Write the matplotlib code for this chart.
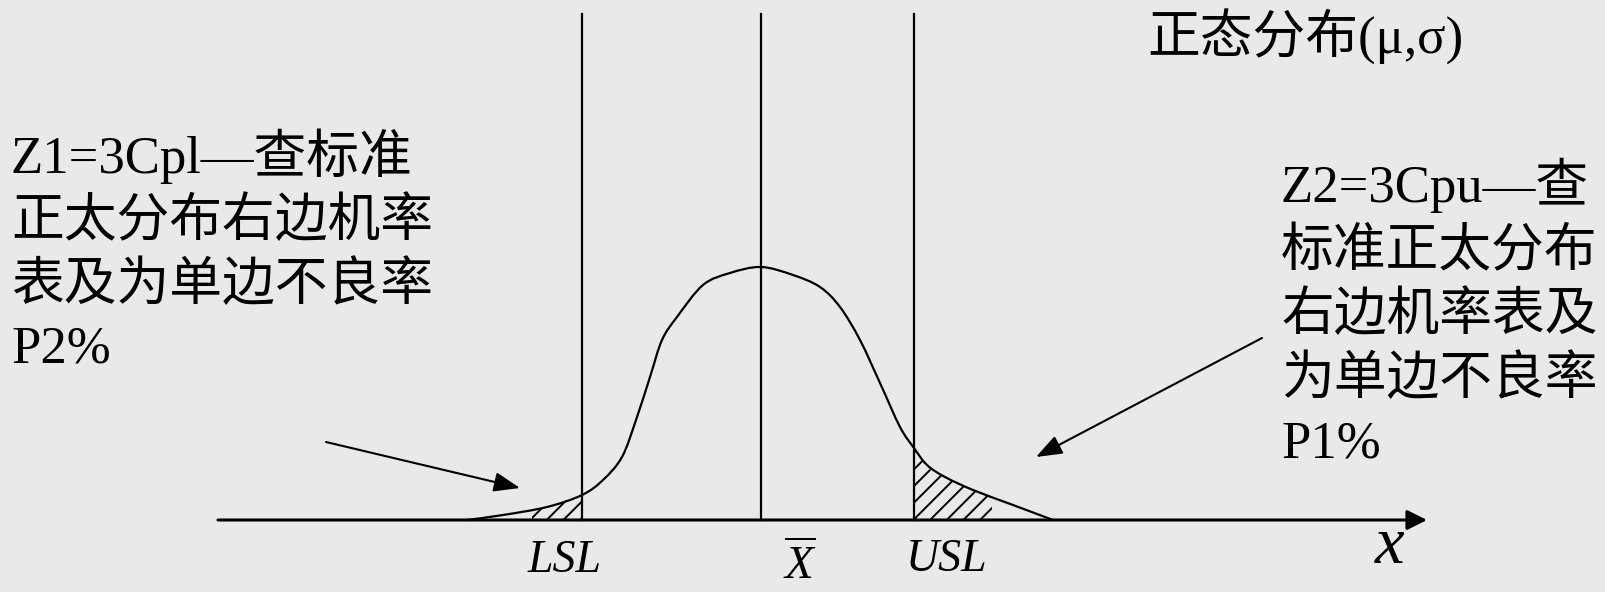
import numpy as np
import matplotlib
matplotlib.use("Agg")
import matplotlib.pyplot as plt
from matplotlib.path import Path
from matplotlib.patches import PathPatch

plt.rcParams['font.family'] = ['Liberation Serif', 'Noto Sans CJK SC']
plt.rcParams['mathtext.fontset'] = 'custom'
plt.rcParams['mathtext.it'] = 'Liberation Serif:italic'
plt.rcParams['mathtext.rm'] = 'Liberation Serif'
plt.rcParams['hatch.linewidth'] = 1.4

# ---- data (pixel-like coordinates, y downwards) ----
curve_x = [467, 503, 547, 582, 603, 622, 636, 650, 662, 677, 703, 730, 761,
           793, 820, 840, 860, 880, 900, 914, 927, 945, 973, 1013, 1053]
curve_y = [520, 515, 507, 495, 480, 457, 420, 377, 340, 317, 285, 273, 267,
           275, 287, 307, 340, 383, 427, 448, 465, 477, 490, 505, 520]

lsl_x = 582
mean_x = 761
usl_x = 914
baseline_y = 520
line_top_y = 14
axis_start_x = 218
axis_end_x = 1427

left_tail_range = [532, 582]
right_tail_range = [914, 992]

title_text = "正态分布(μ,σ)"
left_lines = ["Z1=3Cpl—查标准", "正太分布右边机率", "表及为单边不良率", "P2%"]
right_lines = ["Z2=3Cpu—查", "标准正太分布", "右边机率表及", "为单边不良率", "P1%"]
spec_labels = ["LSL", "USL"]

left_arrow = [(326, 442), (520, 488)]
right_arrow = [(1262, 338), (1036, 457)]


def smooth_path(xs, ys):
    """Catmull-Rom curve through the points, expressed as cubic Bezier path."""
    P = np.column_stack([xs, ys]).astype(float)
    verts = [P[0]]
    codes = [Path.MOVETO]
    n = len(P)
    for i in range(n - 1):
        p0 = P[i - 1] if i > 0 else P[i]
        p1 = P[i]
        p2 = P[i + 1]
        p3 = P[i + 2] if i + 2 < n else P[i + 1]
        c1 = p1 + (p2 - p0) / 6.0
        c2 = p2 - (p3 - p1) / 6.0
        verts += [c1, c2, p2]
        codes += [Path.CURVE4] * 3
    return Path(verts, codes)


# ---- figure ----
W, H = 1606, 592
fig = plt.figure(figsize=(W / 100, H / 100), dpi=100)
bg = '#e9e9e9'
fig.patch.set_facecolor(bg)
ax = fig.add_axes([0, 0, 1, 1])
ax.set_facecolor(bg)
ax.set_xlim(0, W)
ax.set_ylim(H, 0)
ax.axis('off')

# hatched tails (under the curve)
for lo, hi in (left_tail_range, right_tail_range):
    xs = np.linspace(lo, hi, 40)
    ys = np.interp(xs, curve_x, curve_y)
    ax.fill_between(xs, ys, baseline_y, facecolor='none', edgecolor='black',
                    linewidth=0, hatch='//')

# curve
ax.add_patch(PathPatch(smooth_path(curve_x, curve_y), facecolor='none',
                       edgecolor='black', lw=1.6, joinstyle='round'))

# vertical lines
for vx in (lsl_x, mean_x, usl_x):
    ax.plot([vx, vx], [line_top_y, baseline_y], color='black', lw=1.6)

# x axis with arrow
ax.annotate('', xy=(axis_end_x, baseline_y), xytext=(axis_start_x, baseline_y),
            arrowprops=dict(arrowstyle='-|>,head_length=0.6,head_width=0.3',
                            mutation_scale=20, lw=2.2, color='black',
                            shrinkA=0, shrinkB=0))

# pointer arrows
for (tail, tip) in (left_arrow, right_arrow):
    ax.annotate('', xy=tip, xytext=tail,
                arrowprops=dict(arrowstyle='-|>,head_length=0.8,head_width=0.3',
                                mutation_scale=20, lw=1.5, color='black',
                                shrinkA=0, shrinkB=0))

# texts
fs = 38
ax.text(1147, 53, title_text, fontsize=fs, va='baseline', ha='left')
for i, s in enumerate(left_lines):
    ax.text(11, 173 + i * 63.3, s, fontsize=fs, va='baseline', ha='left')
for i, s in enumerate(right_lines):
    ax.text(1281, 202 + i * 64, s, fontsize=fs, va='baseline', ha='left')

ax.text(565, 572, spec_labels[0], fontsize=33, style='italic',
        va='baseline', ha='center', family='Liberation Serif')
ax.text(947, 571, spec_labels[1], fontsize=33, style='italic',
        va='baseline', ha='center', family='Liberation Serif')
ax.text(800, 590, r'$\overline{X}$', fontsize=34, va='bottom', ha='center')
ax.text(1390, 563, 'x', fontsize=48, style='italic', va='baseline', ha='center',
        family='Liberation Serif')

fig.savefig('out.png', dpi=100, facecolor=bg)
